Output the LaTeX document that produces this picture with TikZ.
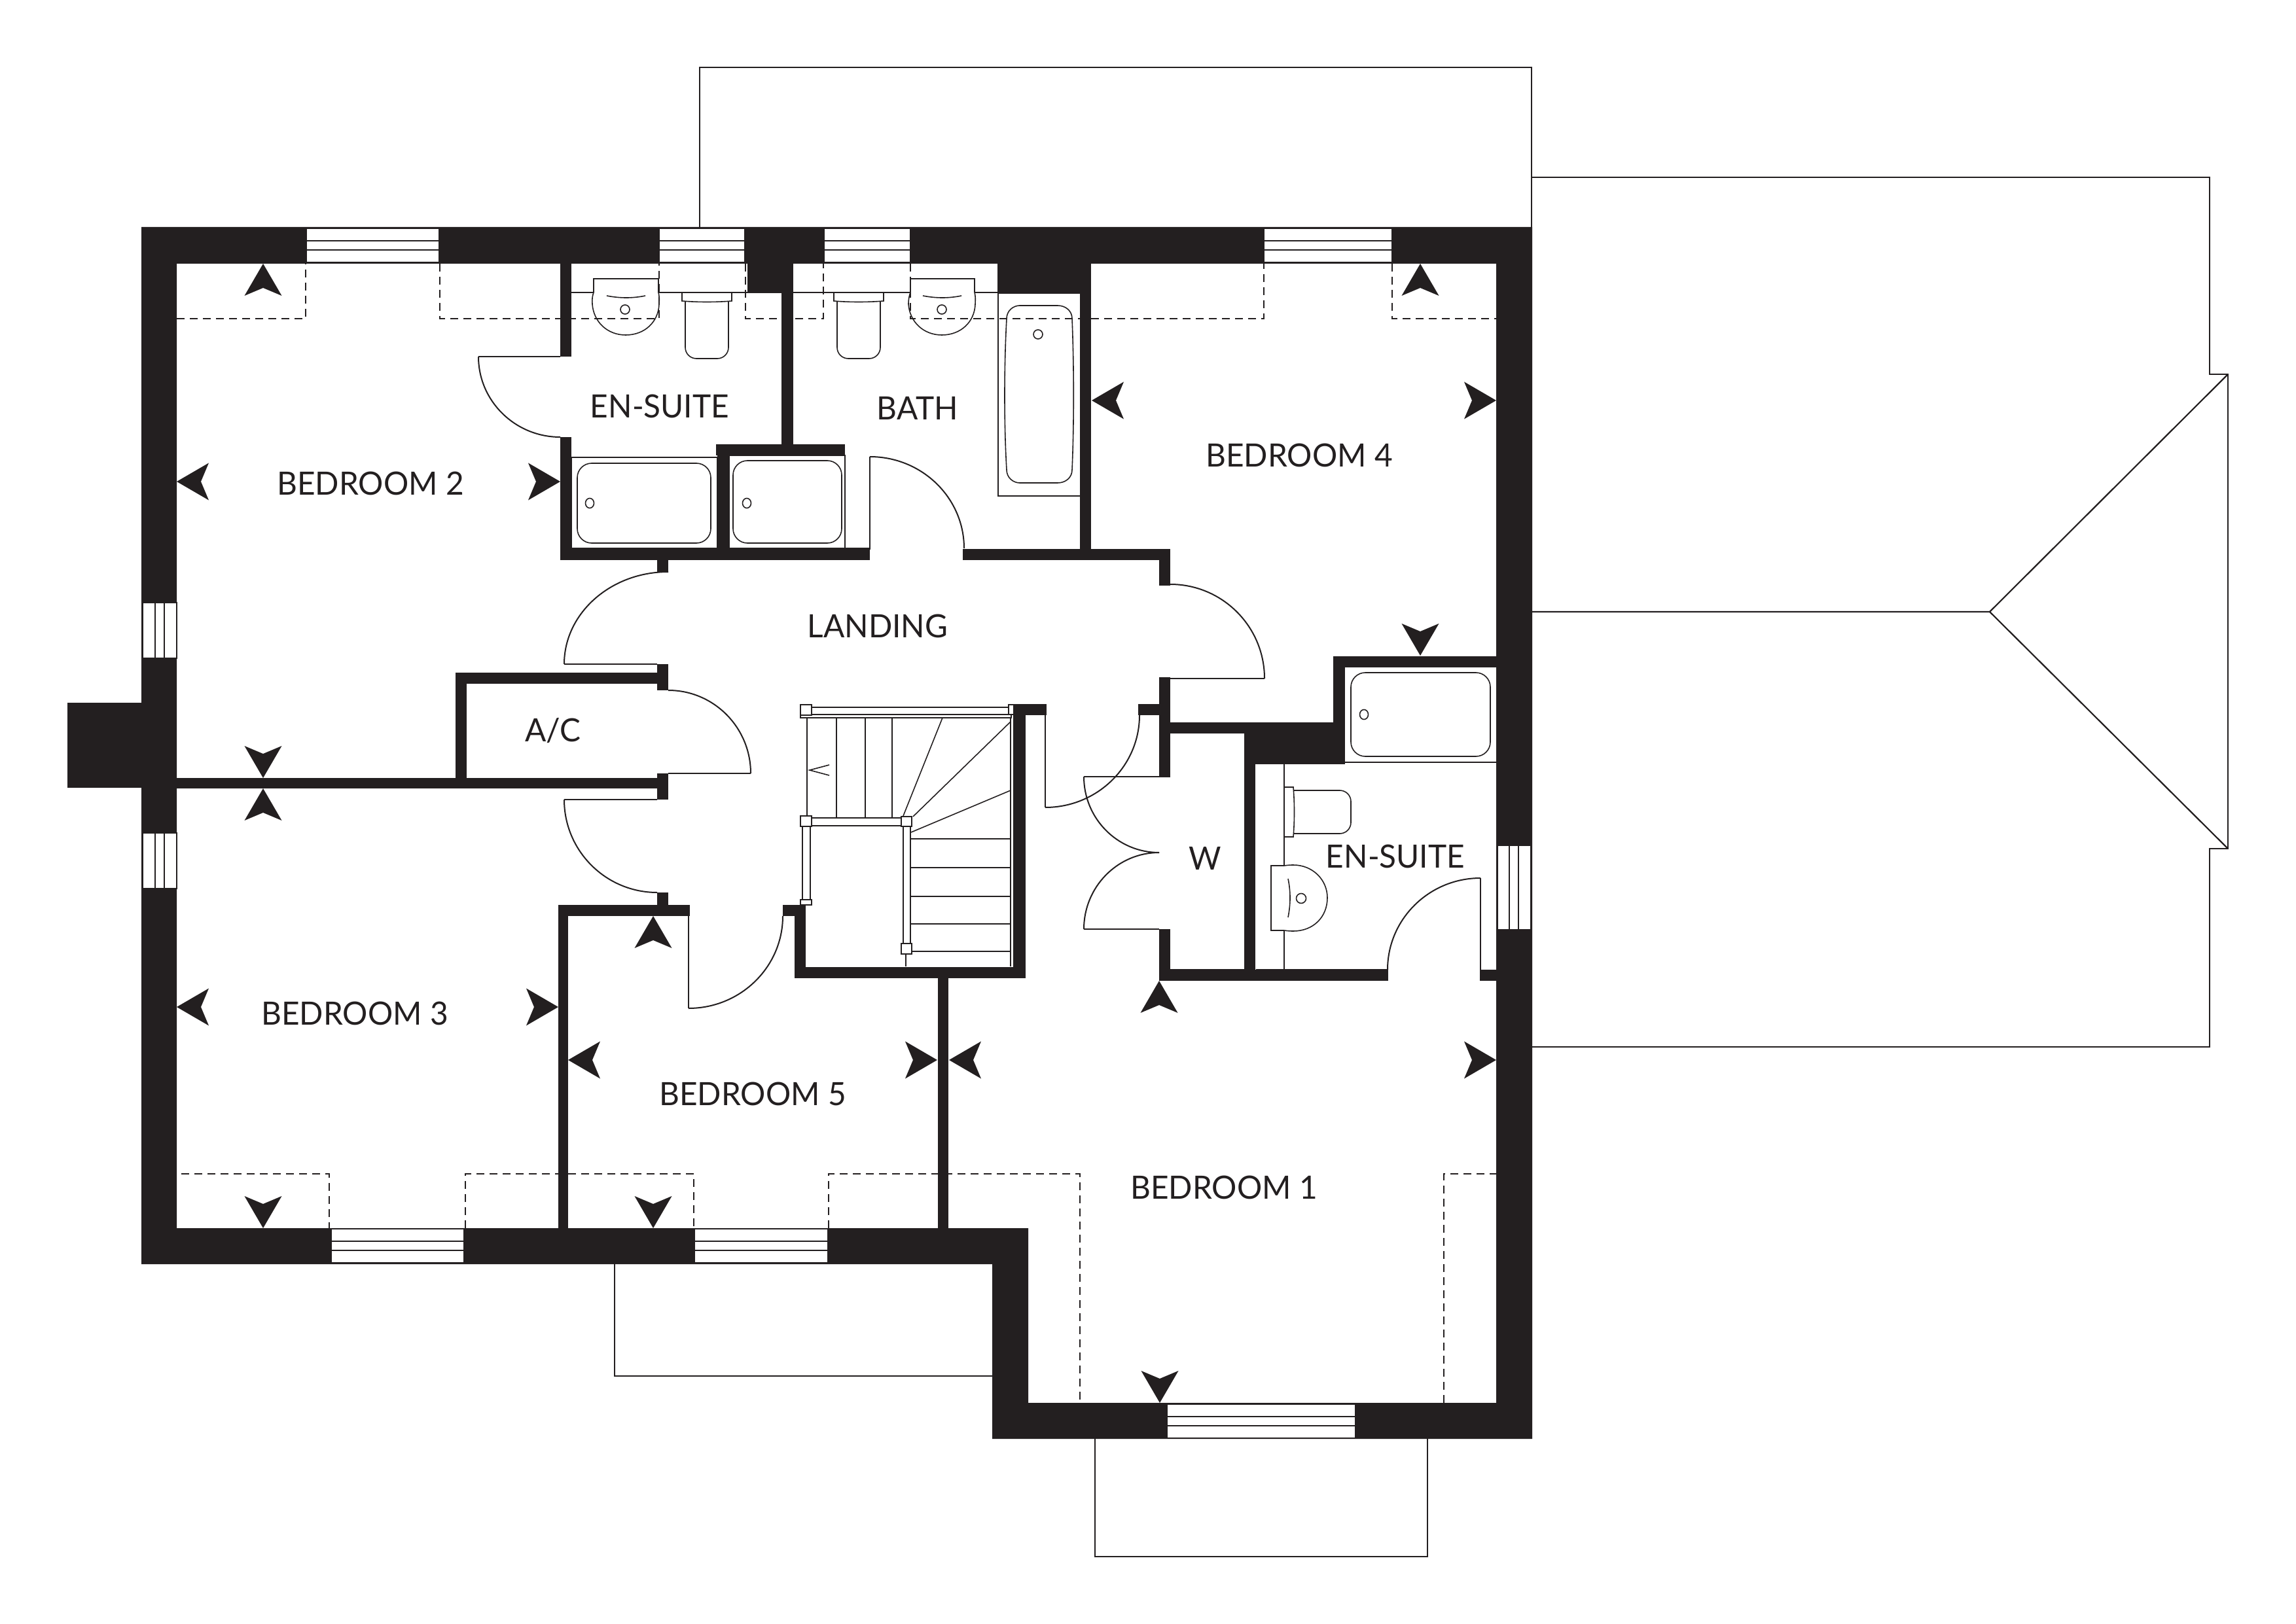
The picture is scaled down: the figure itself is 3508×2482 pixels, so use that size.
\documentclass[tikz,border=0pt]{standalone}
\usepackage{fontspec}
\setmainfont[FakeStretch=0.975]{Lato}
\definecolor{ink}{HTML}{231F20}
\tikzset{
  wall/.style={fill=ink,draw=none},
  hair/.style={draw=ink,line width=1pt},
  fine/.style={draw=ink,line width=0.8pt},
  dashline/.style={draw=ink,line width=0.9pt,dash pattern=on 6pt off 4pt},
  roof/.style={draw=ink,line width=1.1pt},
  lab/.style={text=ink,inner sep=0pt,font=\fontsize{24.5}{29}\selectfont},
  glaze/.style={fill=white,draw=ink,line width=1pt}
}
\newcommand\mkU[2]{\fill[ink] (#1,#2) -- ++(28.5,49) -- ++(-28.5,-12) -- ++(-28.5,12) -- cycle;}
\newcommand\mkD[2]{\fill[ink] (#1,#2) -- ++(28.5,-49) -- ++(-28.5,12) -- ++(-28.5,-12) -- cycle;}
\newcommand\mkL[2]{\fill[ink] (#1,#2) -- ++(49,-28.5) -- ++(-12,28.5) -- ++(12,28.5) -- cycle;}
\newcommand\mkR[2]{\fill[ink] (#1,#2) -- ++(-49,-28.5) -- ++(12,28.5) -- ++(-12,28.5) -- cycle;}
% door swing: vertical tangent at first point, horizontal tangent at second
\newcommand\swing[4]{\pgfmathsetmacro\cya{#2+0.552*(#4-#2)}\pgfmathsetmacro\cxb{#3-0.552*(#3-#1)}\draw[hair] (#1,#2) .. controls (#1,\cya) and (\cxb,#4) .. (#3,#4);}
\newcommand\wbox[4]{\fill[wall] (#1,#2) rectangle (#3,#4);}
\newcommand\winH[4]{% x1 x2 ytop ybottom
  \pgfmathsetmacro\ya{#3+0.36*(#4-#3)}\pgfmathsetmacro\yb{#3+0.63*(#4-#3)}
  \draw[glaze] (#1,#3) rectangle (#2,#4);
  \draw[hair] (#1,\ya) -- (#2,\ya) (#1,\yb) -- (#2,\yb);}
\newcommand\winV[4]{% y1 y2 xleft xright
  \pgfmathsetmacro\xa{#3+0.36*(#4-#3)}\pgfmathsetmacro\xb{#3+0.63*(#4-#3)}
  \draw[glaze] (#3,#1) rectangle (#4,#2);
  \draw[hair] (\xa,#1) -- (\xa,#2) (\xb,#1) -- (\xb,#2);}
\begin{document}
\begin{tikzpicture}[x=0.5pt,y=-0.5pt]
\useasboundingbox (0,0) rectangle (3508,2482);
\fill[white] (0,0) rectangle (3508,2482);
% roofs
\draw[roof] (1069,347) -- (1069,103) -- (2340,103) -- (2340,347);
\draw[roof] (2340,271) -- (3376,271) -- (3376,572) -- (3404,572) -- (3404,1297) -- (3376,1297) -- (3376,1600) -- (2340,1600);
\draw[roof] (2340,935) -- (3040,935) -- (3404,572) (3040,935) -- (3404,1297);
\draw[roof] (939,1932) -- (939,2103) -- (1517,2103);
\draw[roof] (1673,2199) -- (1673,2379) -- (2181,2379) -- (2181,2199);
% en-suite 2 sanitary ware
\draw[fine] (873,447) -- (907,447) (1006,447) -- (1142,447);
\draw[fine] (907,447) -- (907,426) -- (1006,426) -- (1006,447);
\draw[fine] (907,447) .. controls (904,455) and (905,462) .. (905,465) .. controls (907,492) and (928,512) .. (956,512) .. controls (985,512) and (1006,492) .. (1007,465) .. controls (1007,462) and (1008,455) .. (1006,447);
\draw[fine] (927,452) .. controls (947,456) and (967,456) .. (986,452);
\draw[fine] (955,473) circle (7);
\draw[fine,fill=white] (1042,447) -- (1118,447) -- (1118,460) .. controls (1095,462) and (1065,462) .. (1042,460) -- cycle;
\draw[fine,rounded corners=8.5pt] (1047,461) -- (1047,548) -- (1113,548) -- (1113,461);
% bath sanitary ware
\draw[fine] (1212,447) -- (1391,447) (1489,447) -- (1525,447);
\draw[fine,fill=white] (1274,447) -- (1350,447) -- (1350,460) .. controls (1327,462) and (1297,462) .. (1274,460) -- cycle;
\draw[fine,rounded corners=8.5pt] (1279,461) -- (1279,548) -- (1345,548) -- (1345,461);
\draw[fine] (1391,447) -- (1391,426) -- (1489,426) -- (1489,447);
\draw[fine] (1391,447) .. controls (1388,455) and (1388,462) .. (1388,465) .. controls (1390,492) and (1411,512) .. (1439,512) .. controls (1468,512) and (1489,492) .. (1490,465) .. controls (1490,462) and (1491,455) .. (1489,447);
\draw[fine] (1410,452) .. controls (1430,456) and (1450,456) .. (1469,452);
\draw[fine] (1439,473) circle (7);
\draw[fine] (1525,448) rectangle (1651,758);
\draw[fine] (1538,487) .. controls (1538,475) and (1548,467) .. (1558,467) -- (1616,467) .. controls (1628,467) and (1638,475) .. (1638,487) .. controls (1641,560) and (1641,650) .. (1638,718) .. controls (1638,730) and (1628,738) .. (1616,738) -- (1558,738) .. controls (1548,738) and (1538,730) .. (1538,718) .. controls (1534,650) and (1534,560) .. (1538,487) -- cycle;
\draw[fine] (1586,511) circle (7);
% baths / shower trays
\draw[fine] (873,699) rectangle (1096,838);
\draw[fine,rounded corners=11pt] (882,708) rectangle (1086,830);
\draw[fine] (901,769) ellipse (6.5 and 7.5);
\draw[fine] (1114,696) rectangle (1291,838);
\draw[fine,rounded corners=11pt] (1120,704) rectangle (1286,830);
\draw[fine] (1141,769) ellipse (6.5 and 7.5);
\draw[fine] (1291,838) -- (1329,838);
\draw[fine] (2055,1165) -- (2286,1165);
\draw[fine,rounded corners=11pt] (2064,1028) rectangle (2277,1156);
\draw[fine] (2084,1092) ellipse (6.5 and 7.5);
% W and en-suite 1
\draw[fine] (1788,1482) -- (1901,1482);
\draw[fine] (1962,1168) -- (1962,1323) (1962,1422) -- (1962,1482);
\draw[fine] (1919,1482) -- (2120,1482);
\draw[fine] (1962,1203) -- (1976,1203) .. controls (1978,1228) and (1978,1254) .. (1976,1279) -- (1962,1279);
\draw[fine,rounded corners=8.5pt] (1977,1208) -- (2064,1208) -- (2064,1274) -- (1977,1274);
\draw[fine] (1962,1323) -- (1942,1323) -- (1942,1422) -- (1962,1422);
\draw[fine] (1962,1323) .. controls (1969,1322) and (1974,1322) .. (1976,1322) .. controls (2006,1322) and (2028,1345) .. (2028,1372) .. controls (2028,1402) and (2006,1423) .. (1976,1423) .. controls (1974,1423) and (1969,1423) .. (1962,1422);
\draw[fine] (1968,1343) .. controls (1972,1362) and (1972,1382) .. (1968,1402);
\draw[fine] (1988,1373) circle (7.5);
% dashed projections
\draw[dashline] (270,487) -- (467,487) -- (467,403);
\draw[dashline] (672,403) -- (672,487) -- (1007,487) -- (1007,403);
\draw[dashline] (1139,403) -- (1139,487) -- (1258,487) -- (1258,403);
\draw[dashline] (1391,403) -- (1391,487) -- (1668,487) -- (1931,487) -- (1931,403);
\draw[dashline] (2127,403) -- (2127,487) -- (2286,487);
\draw[dashline] (277,1794) -- (503,1794) -- (503,1877);
\draw[dashline] (711,1877) -- (711,1794) -- (1060,1794) -- (1060,1877);
\draw[dashline] (1266,1877) -- (1266,1794) -- (1650,1794) -- (1650,2144);
\draw[dashline] (2206,2144) -- (2206,1794) -- (2286,1794);
% outer shell
\fill[wall,even odd rule] (216,347) -- (2341,347) -- (2341,2199) -- (1516,2199) -- (1516,1932) -- (216,1932) -- cycle
  (270,403) -- (2286,403) -- (2286,2144) -- (1571,2144) -- (1571,1877) -- (270,1877) -- cycle;
\wbox{103}{1074}{216}{1204}
% internal walls
\wbox{856}{403}{873}{545}
\wbox{856}{668}{873}{856}
\wbox{856}{839}{1329}{856}
\wbox{1004}{856}{1021}{874}
\wbox{1142}{403}{1212}{448}
\wbox{1194}{448}{1212}{679}
\wbox{1094}{679}{1291}{696}
\wbox{1096}{696}{1114}{839}
\wbox{1471}{839}{1788}{856}
\wbox{1524}{403}{1667}{448}
\wbox{1650}{448}{1667}{856}
\wbox{1771}{856}{1788}{895}
\wbox{1004}{1015}{1021}{1055}
\wbox{696}{1028}{1021}{1045}
\wbox{696}{1028}{713}{1205}
\wbox{270}{1189}{1021}{1205}
\wbox{1004}{1182}{1021}{1222}
\wbox{1004}{1364}{1021}{1383}
\wbox{853}{1383}{1054}{1400}
\wbox{853}{1383}{868}{1877}
\wbox{1196}{1383}{1231}{1400}
\wbox{1214}{1383}{1231}{1495}
\wbox{1214}{1478}{1567}{1495}
\wbox{1548}{1076}{1567}{1495}
\wbox{1548}{1076}{1599}{1093}
\wbox{1433}{1495}{1449}{1877}
\wbox{1739}{1076}{1788}{1093}
\wbox{1771}{1035}{1788}{1188}
\wbox{1771}{1104}{2037}{1121}
\wbox{1901}{1121}{2054}{1168}
\wbox{2037}{1003}{2055}{1168}
\wbox{2037}{1003}{2286}{1020}
\wbox{1901}{1121}{1918}{1499}
\wbox{1771}{1420}{1788}{1499}
\wbox{1771}{1482}{2121}{1499}
\wbox{2261}{1482}{2286}{1499}
% windows
\winH{468}{671}{349}{401}
\winH{1007}{1138}{349}{401}
\winH{1259}{1391}{349}{401}
\winH{1931}{2127}{349}{401}
\winH{506}{709}{1878}{1930}
\winH{1061}{1265}{1878}{1930}
\winH{1783}{2071}{2146}{2198}
\winV{921}{1006}{218}{270}
\winV{1273}{1358}{218}{270}
\winV{1292}{1421}{2288}{2339}
% door leaves and swings
\draw[hair] (731,545) -- (856,545); \swing{731}{545}{856}{668}
\draw[hair] (1329,698) -- (1329,840); \swing{1473}{838}{1329}{698}
\draw[hair] (862,1015) -- (1004,1015); \swing{862}{1015}{1021}{874}
\draw[hair] (1147,1182) -- (1021,1182); \swing{1147}{1182}{1021}{1055}
\draw[hair] (862,1222) -- (1004,1222); \swing{862}{1222}{1004}{1364}
\draw[hair] (1052,1400) -- (1052,1541); \swing{1196}{1400}{1052}{1541}
\draw[hair] (1597,1093) -- (1597,1234); \swing{1741}{1093}{1597}{1234}
\draw[hair] (1788,1037) -- (1932,1037); \swing{1932}{1037}{1788}{893}
\draw[hair] (1656,1187) -- (1771,1187); \swing{1656}{1187}{1771}{1303}
\draw[hair] (1656,1420) -- (1771,1420); \swing{1656}{1420}{1771}{1303}
\draw[hair] (2262,1342) -- (2262,1482); \swing{2120}{1482}{2262}{1342}
% stairs
\draw[fine] (1233,1097) -- (1233,1247);
\draw[fine] (1278,1097) -- (1278,1250) (1322,1097) -- (1322,1250) (1363,1097) -- (1363,1250);
\draw[fine] (1440,1097) -- (1380,1247);
\draw[fine] (1544,1103) -- (1395,1248);
\draw[fine] (1544,1208) -- (1392,1272);
\draw[fine] (1391,1282) -- (1544,1282) (1391,1326) -- (1544,1326) (1391,1370) -- (1544,1370) (1391,1412) -- (1544,1412) (1393,1454) -- (1544,1454);
\draw[fine] (1544,1093) -- (1544,1477);
\draw[fine] (1384,1458) -- (1384,1477);
\draw[fine,fill=white] (1240,1081) rectangle (1541,1092);
\draw[fine,fill=white] (1223,1092) rectangle (1545,1097);
\draw[fine,fill=white] (1240,1250) rectangle (1377,1262);
\draw[fine,fill=white] (1380,1263) rectangle (1391,1442);
\draw[fine,fill=white] (1226,1263) rectangle (1238,1375);
\draw[fine,fill=white] (1223,1077) rectangle (1240,1093);
\draw[fine,fill=white] (1541,1077) rectangle (1549,1092);
\draw[fine,fill=white] (1223,1247) rectangle (1240,1263);
\draw[fine,fill=white] (1377,1248) rectangle (1393,1263);
\draw[fine,fill=white] (1377,1442) rectangle (1393,1458);
\draw[fine,fill=white] (1223,1375) rectangle (1240,1383);
\draw[fine] (1267,1169) -- (1237,1177) -- (1267,1185);
% direction marks
\mkU{402}{403} \mkL{270}{736} \mkR{856}{736} \mkD{402}{1189}
\mkU{402}{1205} \mkL{270}{1539} \mkR{853}{1539} \mkD{402}{1877}
\mkU{998}{1400} \mkL{868}{1620} \mkR{1432}{1620} \mkD{998}{1877}
\mkL{1450}{1620} \mkR{2286}{1620} \mkU{1771}{1499} \mkD{1772}{2144}
\mkL{1668}{612} \mkR{2286}{612} \mkU{2170}{403} \mkD{2170}{1002}
% labels
\node[lab] (bed2) at (566,739) {BEDROOM 2};
\node[lab] (ens2) at (1008,621) {EN-SUITE};
\node[lab] (bath) at (1402,624) {BATH};
\node[lab] (land) at (1341,957) {LANDING};
\node[lab] (ac) at (845,1117) {A/C};
\node[lab] (wc) at (1841,1312) {W};
\node[lab] (ens1) at (2132,1309) {EN-SUITE};
\node[lab] (bed4) at (1985,696) {BEDROOM 4};
\node[lab] (bed3) at (542,1549) {BEDROOM 3};
\node[lab] (bed5) at (1150,1672) {BEDROOM 5};
\node[lab] (bed1) at (1870,1815) {BEDROOM 1};
\end{tikzpicture}
\end{document}
